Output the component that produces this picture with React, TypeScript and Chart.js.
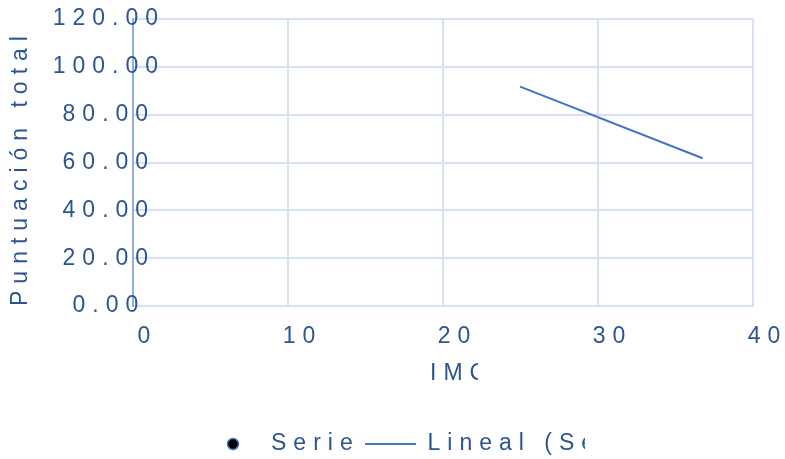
import React, { useEffect, useRef } from "react";
import { Chart, registerables } from "chart.js";

Chart.register(...registerables);

// ---- data ----
const seriesLabel = "Serie 1";
const trendLabel = "Lineal (Serie 1)";
const seriesX: number[] = [];
const seriesY: number[] = [];
const trendX = [24.97, 36.75];
const trendY = [91.7, 61.8];
const xTitle = "IMC";
const yTitle = "Puntuación total";
const xTicks = [0, 10, 20, 30, 40];
const yTicks = [0, 20, 40, 60, 80, 100, 120];

const FONT = '"Liberation Sans", Arial, sans-serif';
const TEXT = "#2a5592";
const GRID = "#d5e2f3";
const AXIS = "#8fb1e0";
const LINE = "#4472c4";
const LS = "7px";

const spacingPlugin = {
  id: "spacing",
  beforeUpdate(chart: any) {
    chart.ctx.letterSpacing = LS;
  },
  beforeDraw(chart: any) {
    chart.ctx.letterSpacing = LS;
  },
  afterDraw(chart: any) {
    const ctx = chart.ctx as CanvasRenderingContext2D;
    ctx.save();
    ctx.letterSpacing = LS;
    ctx.fillStyle = TEXT;
    ctx.font = `23px ${FONT}`;
    ctx.textBaseline = "middle";
    ctx.textAlign = "left";

    // y title (rotated)
    ctx.save();
    ctx.translate(21, 306);
    ctx.rotate(-Math.PI / 2);
    ctx.fillText(yTitle, 0, 0);
    ctx.restore();

    // x title (clipped)
    ctx.save();
    ctx.beginPath();
    ctx.rect(0, 350, 478, 50);
    ctx.clip();
    ctx.fillText(xTitle, 430, 374);
    ctx.restore();

    // legend
    const ds = chart.data.datasets;
    ctx.beginPath();
    ctx.arc(233, 444, 5.5, 0, Math.PI * 2);
    ctx.fillStyle = "#000000";
    ctx.fill();
    ctx.lineWidth = 1.5;
    ctx.strokeStyle = LINE;
    ctx.stroke();
    ctx.fillStyle = TEXT;
    ctx.save();
    ctx.beginPath();
    ctx.rect(0, 420, 352, 39);
    ctx.clip();
    ctx.fillText(ds[0].label, 271, 444);
    ctx.restore();
    ctx.beginPath();
    ctx.moveTo(365, 444);
    ctx.lineTo(416, 444);
    ctx.strokeStyle = LINE;
    ctx.lineWidth = 2;
    ctx.stroke();
    ctx.save();
    ctx.beginPath();
    ctx.rect(0, 420, 585, 39);
    ctx.clip();
    ctx.fillText(ds[1].label, 427.5, 444);
    ctx.restore();

    ctx.restore();
  },
};

export default function App() {
  const ref = useRef<HTMLCanvasElement>(null);
  useEffect(() => {
    document.body.style.margin = "0";
    document.body.style.overflow = "hidden";
    const canvas = ref.current!;
    const chart = new Chart(canvas, {
      type: "scatter",
      data: {
        datasets: [
          {
            label: seriesLabel,
            data: seriesX.map((x, i) => ({ x, y: seriesY[i] })),
            backgroundColor: "#000000",
            borderColor: LINE,
            pointRadius: 5,
          },
          {
            label: trendLabel,
            data: trendX.map((x, i) => ({ x, y: trendY[i] })),
            showLine: true,
            borderColor: LINE,
            borderWidth: 2,
            pointRadius: 0,
            pointHoverRadius: 0,
          },
        ],
      },
      options: {
        responsive: false,
        animation: false,
        events: [],
        layout: { padding: { top: 19, right: 32, bottom: 0, left: 0 } },
        plugins: {
          legend: { display: false },
          tooltip: { enabled: false },
          title: { display: false },
        },
        scales: {
          x: {
            type: "linear",
            min: xTicks[0],
            max: xTicks[xTicks.length - 1],
            afterBuildTicks: (s: any) => {
              s.ticks = xTicks.map((v) => ({ value: v }));
            },
            afterFit: (s: any) => {
              s.height = 153;
              s.paddingLeft = 0;
              s.paddingRight = 0;
              s._computeLabelArea = () => undefined;
            },
            grid: {
              color: (c: any) => (c.tick && c.tick.value === 0 ? AXIS : GRID),
              lineWidth: 2,
              drawTicks: false,
            },
            border: { color: GRID, width: 2 },
            ticks: {
              color: TEXT,
              font: { family: FONT, size: 23 },
              padding: 17,
              labelOffset: 14.5,
              maxRotation: 0,
              autoSkip: false,
              callback: (v: any) => String(v),
            },
          },
          y: {
            type: "linear",
            min: yTicks[0],
            max: yTicks[yTicks.length - 1],
            afterBuildTicks: (s: any) => {
              s.ticks = yTicks.map((v) => ({ value: v }));
            },
            afterFit: (s: any) => {
              s.width = 133;
              s.paddingTop = 0;
              s.paddingBottom = 0;
              s._computeLabelArea = () => undefined;
            },
            grid: { color: GRID, lineWidth: 2, drawTicks: false },
            border: { color: AXIS, width: 2 },
            ticks: {
              color: TEXT,
              font: { family: FONT, size: 23 },
              padding: -32,
              crossAlign: "center",
              autoSkip: false,
              callback: (v: any) => Number(v).toFixed(2),
            },
          },
        },
      },
      plugins: [spacingPlugin],
    });
    return () => chart.destroy();
  }, []);
  return (
    <div style={{ width: 785, height: 459 }}>
      <canvas ref={ref} width={785} height={459} style={{ display: "block" }} />
    </div>
  );
}
